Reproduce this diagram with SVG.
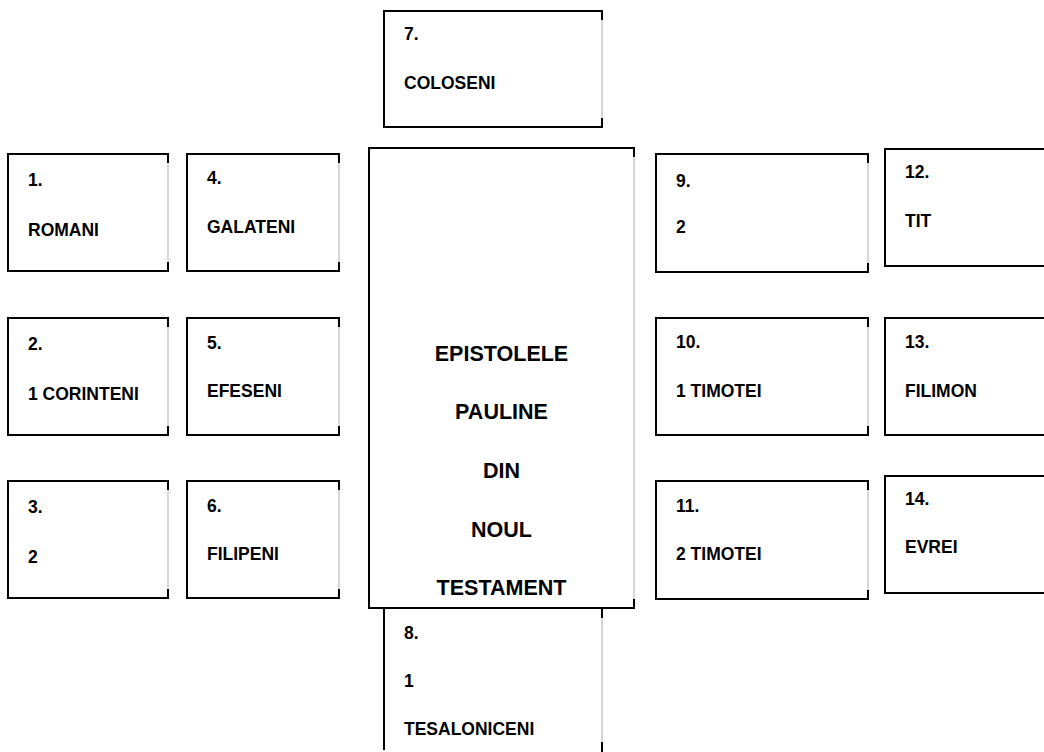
<svg xmlns="http://www.w3.org/2000/svg" width="1044" height="752" viewBox="0 0 1044 752">
<style>
.edge{fill:none;stroke:#000;stroke-width:2}
.side{fill:none;stroke:#b0b0b0;stroke-width:1}
.bg{fill:#fff;stroke:none}
text{font-family:"Liberation Sans",Arial,sans-serif;font-weight:bold;fill:#000}
.t{font-size:17.5px}
.c{font-size:21.5px;text-anchor:middle}
</style>
<rect width="1044" height="752" fill="#fff"/>
<g id="connectors"></g>
<g id="n1">
<rect class="bg" x="8" y="154" width="160" height="117"/>
<line class="side" x1="168" y1="154" x2="168" y2="271"/>
<path class="edge" d="M168 163V154H8V271H168V262"/>
<text class="t" x="28" y="186">1.</text><text class="t" x="28" y="236">ROMANI</text>
</g>
<g id="n4">
<rect class="bg" x="187" y="154" width="152" height="117"/>
<line class="side" x1="339" y1="154" x2="339" y2="271"/>
<path class="edge" d="M339 163V154H187V271H339V262"/>
<text class="t" x="207" y="184">4.</text><text class="t" x="207" y="233">GALATENI</text>
</g>
<g id="n2">
<rect class="bg" x="8" y="318" width="160" height="117"/>
<line class="side" x1="168" y1="318" x2="168" y2="435"/>
<path class="edge" d="M168 327V318H8V435H168V426"/>
<text class="t" x="28" y="350">2.</text><text class="t" x="28" y="400">1 CORINTENI</text>
</g>
<g id="n5">
<rect class="bg" x="187" y="318" width="152" height="117"/>
<line class="side" x1="339" y1="318" x2="339" y2="435"/>
<path class="edge" d="M339 327V318H187V435H339V426"/>
<text class="t" x="207" y="349">5.</text><text class="t" x="207" y="397">EFESENI</text>
</g>
<g id="n3">
<rect class="bg" x="8" y="481" width="160" height="117"/>
<line class="side" x1="168" y1="481" x2="168" y2="598"/>
<path class="edge" d="M168 490V481H8V598H168V589"/>
<text class="t" x="28" y="513">3.</text><text class="t" x="28" y="563">2</text>
</g>
<g id="n6">
<rect class="bg" x="187" y="481" width="152" height="117"/>
<line class="side" x1="339" y1="481" x2="339" y2="598"/>
<path class="edge" d="M339 490V481H187V598H339V589"/>
<text class="t" x="207" y="512">6.</text><text class="t" x="207" y="560">FILIPENI</text>
</g>
<g id="n7">
<rect class="bg" x="384" y="11" width="218" height="116"/>
<line class="side" x1="602" y1="11" x2="602" y2="127"/>
<path class="edge" d="M602 20V11H384V127H602V118"/>
<text class="t" x="404" y="40">7.</text><text class="t" x="404" y="89">COLOSENI</text>
</g>
<g id="center">
<rect class="bg" x="369" y="148" width="265" height="460"/>
<line class="side" x1="634" y1="148" x2="634" y2="608"/>
<path class="edge" d="M634 157V148H369V608H634V599"/>
<text class="c" x="501.5" y="361">EPISTOLELE</text>
<text class="c" x="501.5" y="419">PAULINE</text>
<text class="c" x="501.5" y="478">DIN</text>
<text class="c" x="501.5" y="537">NOUL</text>
<text class="c" x="501.5" y="595">TESTAMENT</text>
</g>
<g id="n8">
<line class="side" x1="602" y1="609" x2="602" y2="750"/>
<path class="edge" d="M384 609V750M602 609V618M602 742V752"/>
<text class="t" x="404" y="639">8.</text><text class="t" x="404" y="687">1</text><text class="t" x="404" y="735">TESALONICENI</text>
</g>
<g id="n9">
<rect class="bg" x="656" y="154" width="212" height="118"/>
<line class="side" x1="868" y1="154" x2="868" y2="272"/>
<path class="edge" d="M868 163V154H656V272H868V263"/>
<text class="t" x="676" y="187">9.</text><text class="t" x="676" y="233">2</text>
</g>
<g id="n10">
<rect class="bg" x="656" y="318" width="212" height="117"/>
<line class="side" x1="868" y1="318" x2="868" y2="435"/>
<path class="edge" d="M868 327V318H656V435H868V426"/>
<text class="t" x="676" y="348">10.</text><text class="t" x="676" y="397">1 TIMOTEI</text>
</g>
<g id="n11">
<rect class="bg" x="656" y="481" width="212" height="118"/>
<line class="side" x1="868" y1="481" x2="868" y2="599"/>
<path class="edge" d="M868 490V481H656V599H868V590"/>
<text class="t" x="676" y="512">11.</text><text class="t" x="676" y="560">2 TIMOTEI</text>
</g>
<g id="n12">
<path class="edge" d="M1050 149H885V266H1050"/>
<text class="t" x="905" y="178">12.</text><text class="t" x="905" y="227">TIT</text>
</g>
<g id="n13">
<path class="edge" d="M1050 318H885V435H1050"/>
<text class="t" x="905" y="348">13.</text><text class="t" x="905" y="397">FILIMON</text>
</g>
<g id="n14">
<path class="edge" d="M1050 476H885V593H1050"/>
<text class="t" x="905" y="505">14.</text><text class="t" x="905" y="553">EVREI</text>
</g>
</svg>
